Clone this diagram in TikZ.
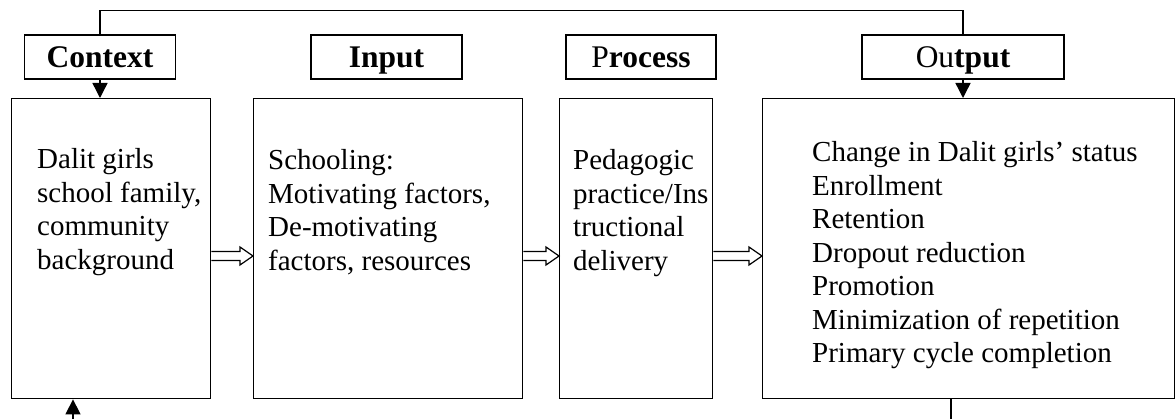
\documentclass[tikz,border=0pt]{standalone}
\usepackage{fontspec}
\setmainfont{Liberation Serif}
\usetikzlibrary{arrows.meta,calc}

\tikzset{
  x=1pt, y=1pt,
  line/.style={line width=1.4pt},
  box/.style={draw, line width=1.4pt, anchor=north west, minimum height=300pt, inner sep=0pt},
  label/.style={draw, line width=1.4pt, minimum height=44pt, inner sep=0pt,
                text height=21pt, text depth=0pt, font=\fontsize{31.5}{36}\selectfont},
  % anchored on the baseline of the last line
  body/.style={anchor=base west, align=left, inner sep=0pt,
               font=\fontsize{29}{33.5}\selectfont},
  pointer/.style={line, -{Triangle[length=15pt,width=15pt]}},
  hollow/.style={draw, line width=1.2pt, line join=miter, fill=white},
}

% open block arrow between two boxes at height #3
\newcommand\blockarrow[3]{%
  \path[hollow] let \p1=(#1.east), \p2=(#2.west) in
    (\x1,-#3+4.5) -- (\x2-13pt,-#3+4.5) -- (\x2-13pt,-#3+9) -- (\x2,-#3)
    -- (\x2-13pt,-#3-9) -- (\x2-13pt,-#3-4.5) -- (\x1,-#3-4.5);}

\begin{document}
\begin{tikzpicture}
\useasboundingbox (0,0) rectangle (1176,-419);

% stage labels
\node[label, minimum width=151pt] (lc) at (100,-57)   {\textbf{Context}};
\node[label, minimum width=151pt] (li) at (386.5,-57) {\textbf{Input}};
\node[label, minimum width=150pt] (lp) at (641,-57)   {P\textbf{rocess}};
\node[label, minimum width=202pt] (lo) at (963,-57)   {Ou\textbf{tput}};

% main boxes
\node[box, minimum width=199pt] (b1) at (11,-98)  {};
\node[box, minimum width=269pt] (b2) at (253,-98) {};
\node[box, minimum width=153pt] (b3) at (559,-98) {};
\node[box, minimum width=412pt] (b4) at (762,-98) {};

% box contents
\node[body] (t1) at (37,-269.5) {Dalit girls\\school family,\\community\\background};
\node[body] (t2) at (268,-270.5) {Schooling:\\Motivating factors,\\De-motivating\\factors, resources};
\node[body] (t3) at (573,-270.5) {Pedagogic\\practice/Ins\\tructional\\delivery};
\node[body] (t4) at (812,-363) {Change in Dalit girls’ status\\Enrollment\\Retention\\Dropout reduction\\Promotion\\Minimization of repetition\\Primary cycle completion};

% feedback line across the top
\draw[line] (lc.north) -- ++(0,24) -| (lo.north);
\draw[pointer] (lc.south) -- (lc.south |- b1.north);
\draw[pointer] (lo.south) -- (lo.south |- b4.north);

% flow between stages
\blockarrow{b1}{b2}{256}
\blockarrow{b2}{b3}{256}
\blockarrow{b3}{b4}{256}

% return line along the bottom
\coordinate (e4) at (951,-419);
\coordinate (e1) at (73,-419);
\draw[line] (e4 |- b4.south) -- (e4);
\draw[pointer] (e1) -- (e1 |- b1.south);
\end{tikzpicture}
\end{document}
